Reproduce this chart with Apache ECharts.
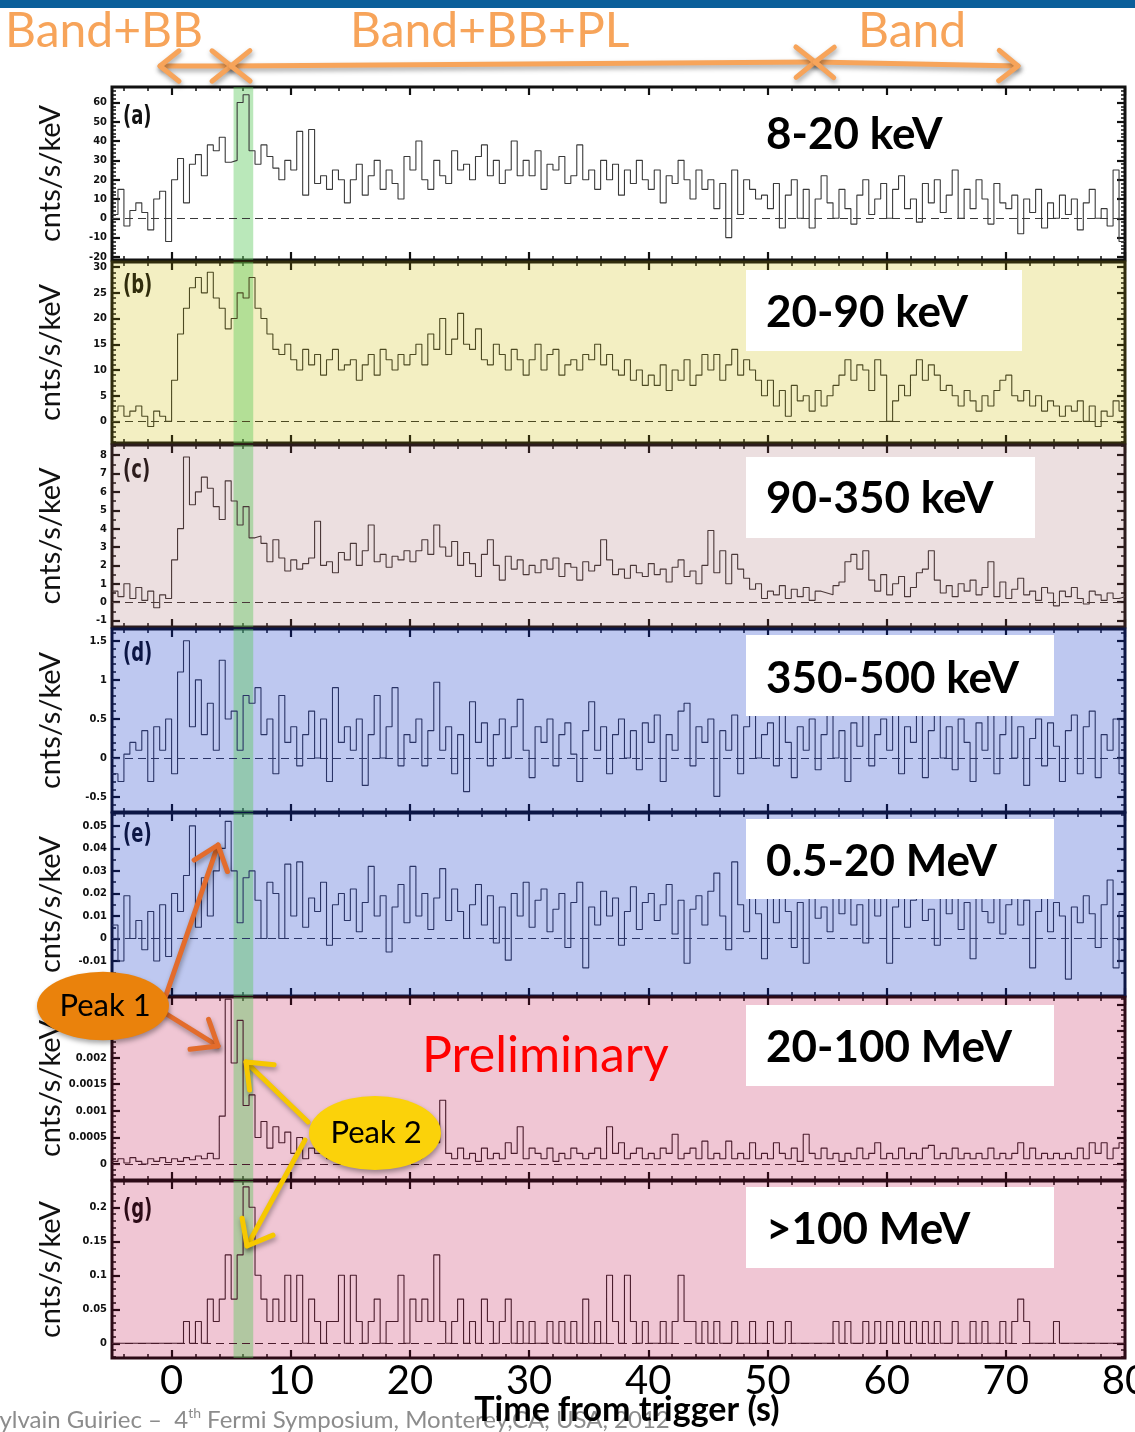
<!DOCTYPE html>
<html><head><meta charset="utf-8">
<script src="https://cdn.jsdelivr.net/npm/echarts@6/dist/echarts.min.js"></script>
<style>html,body{margin:0;padding:0;background:#fff}#c{width:1135px;height:1432px}</style>
</head><body><div id="c"></div>
<script>
// ---------------- DATA ----------------
const T_START = -5, BIN = 0.5, X_MIN = -5, X_MAX = 80;
const X_MAJOR = [0, 10, 20, 30, 40, 50, 60, 70, 80];
const PEAK_WINDOW = [5.2, 6.85];
const BAND_LABELS = ['8-20 keV', '20-90 keV', '90-350 keV', '350-500 keV', '0.5-20 MeV', '20-100 MeV', '>100 MeV'];
const PANEL_LETTERS = ['(a)', '(b)', '(c)', '(d)', '(e)', '', '(g)'];

const countsA = [
 2, 15, -4, 4, 8, 3, -6, 10, 14, -12,
 20, 31, 8, 28, 33, 22, 38, 35, 42, 29,
 30, 60, 64, 35, 28, 38, 32, 26, 20, 30,
 25, 45, 12, 46, 18, 22, 15, 25, 20, 8,
 20, 28, 12, 22, 30, 15, 25, 18, 10, 32,
 25, 40, 20, 15, 30, 22, 18, 35, 25, 28,
 20, 32, 38, 22, 30, 18, 25, 40, 22, 30,
 22, 35, 15, 28, 25, 32, 18, 22, 38, 20,
 25, 15, 30, 20, 28, 12, 25, 18, 30, 20,
 15, 25, 8, 22, 18, 30, 20, 10, 25, 15,
 20, 5, 18, -10, 25, 2, 20, 15, 10, 12,
 5, 18, -5, 12, 20, 0, 15, -5, 10, 22,
 8, 0, 15, 5, -3, 12, 20, 2, 10, 18,
 0, 15, 22, 5, 10, -2, 18, 8, 20, 3,
 12, 25, 0, 15, 5, 20, 10, -3, 18, 8,
 5, 12, -8, 10, 3, 15, -5, 8, 0, 12,
 2, 10, -6, 8, 15, 0, 5, -4, 25, -12
];
const countsB = [
 2, 3, 1, 2, 3, 1, -1, 2, 1, 0,
 8, 17, 22, 26, 28, 25, 29, 24, 22, 18,
 20, 25, 24, 28, 22, 20, 17, 14, 13, 15,
 12, 10, 14, 11, 13, 9, 12, 14, 10, 11,
 12, 8, 11, 13, 9, 14, 12, 10, 13, 11,
 13, 15, 11, 17, 14, 20, 13, 16, 21, 15,
 14, 18, 12, 11, 15, 13, 10, 14, 12, 9,
 12, 15, 10, 13, 14, 9, 11, 12, 10, 13,
 12, 15, 11, 13, 10, 9, 12, 8, 10, 7,
 9, 7, 11, 6, 10, 8, 12, 7, 9, 13,
 10, 13, 8, 11, 14, 9, 12, 10, 8, 5,
 8, 3, 6, 1, 7, 4, 5, 2, 6, 3,
 5, 7, 9, 12, 8, 11, 10, 6, 12, 9,
 0, 4, 7, 5, 9, 12, 8, 11, 9, 6,
 7, 5, 3, 6, 4, 2, 5, 3, 6, 8,
 9, 5, 4, 6, 3, 5, 2, 4, 3, 1,
 3, 2, 4, 0, 3, -1, 2, 1, 4, 2
];
const countsC = [
 0.6, 0.3, 1.0, 0.2, 0.8, 0.1, 0.6, -0.3, 0.4, 0.2,
 2.3, 4.0, 7.9, 5.3, 6.0, 6.8, 6.2, 5.2, 4.5, 6.6,
 5.5, 4.2, 5.2, 3.5, 3.6, 3.2, 2.2, 3.4, 2.4, 1.7,
 2.3, 1.8, 2.1, 2.4, 4.4, 2.0, 2.2, 1.6, 2.7, 2.3,
 3.2, 2.0, 2.8, 4.2, 2.2, 2.6, 1.9, 2.5, 2.3, 2.8,
 2.2, 2.8, 3.4, 2.6, 4.2, 3.0, 2.5, 3.3, 2.0, 2.7,
 2.1, 1.4, 2.6, 3.4, 2.0, 1.2, 2.5, 1.8, 2.3, 1.5,
 2.0, 1.6, 2.3, 1.8, 2.4, 1.4, 2.1, 1.9, 1.2, 2.2,
 1.7, 2.0, 3.4, 2.3, 1.5, 1.8, 1.3, 2.0, 1.6, 1.4,
 2.1, 1.5, 1.8, 1.1, 1.9, 2.3, 1.4, 1.7, 1.0, 2.0,
 3.9, 1.6, 2.8, 1.0, 2.6, 1.8, 1.3, 0.7, 1.0, 0.2,
 0.6, 0.4, 0.9, 0.2, 0.7, 0.3, 0.8, 0.1, 0.6, 0.5,
 0.4, 0.9, 1.1, 2.2, 2.6, 1.8, 2.8, 1.2, 0.6, 1.5,
 0.4, 1.0, 1.4, 0.3, 0.8, 1.6, 1.8, 2.8, 1.2, 0.5,
 0.9, 0.3, 1.0, 0.6, 1.2, 0.4, 0.8, 2.2, 0.3, 1.1,
 0.2, 0.7, 1.3, 0.4, 0.6, 0.1, 0.8, 0.5, -0.2, 0.6,
 0.3, 0.8, 0.2, -0.1, 0.6, 0.4, 0.1, 0.5, 0.2, 0.3
];
const countsD = [
 -0.2, -0.3, 0.05, 0.2, 0.1, 0.35, -0.3, 0.4, 0.1, 0.5,
 -0.2, 1.1, 1.5, 0.4, 1.0, 0.3, 0.7, 0.1, 1.25, 0.5,
 0.6, 0.1, 0.8, 0.7, 0.9, 0.3, 0.5, -0.2, 0.8, 0.2,
 0.4, -0.1, 0.3, 0.6, 0.0, 0.5, -0.3, 0.9, 0.2, 0.4,
 0.1, 0.5, -0.35, 0.3, 0.8, 0.0, 0.4, 0.9, -0.1, 0.3,
 0.2, 0.5, -0.1, 0.35, 0.97, 0.1, 0.4, -0.2, 0.3, -0.43,
 0.72, 0.2, 0.45, -0.1, 0.3, 0.5, 0.0, 0.4, 0.75, 0.1,
 -0.25, 0.4, 0.2, 0.5, -0.1, 0.3, 0.45, 0.05, -0.3, 0.35,
 0.72, 0.1, 0.4, -0.2, 0.3, 0.5, 0.0, 0.35, -0.15, 0.45,
 0.2, 0.55, -0.3, 0.3, 0.1, 0.6, 0.7, -0.1, 0.4, 0.2,
 0.5, -0.49, 0.35, 0.1, 0.55, -0.2, 0.4, 0.6, 0.0, 0.3,
 0.45, -0.1, 0.6, 0.2, -0.25, 0.4, 0.1, 0.5, -0.15, 0.3,
 0.55, 0.0, 0.35, -0.3, 0.45, 0.15, 0.6, -0.1, 0.3, 0.5,
 0.1, 0.65, -0.2, 0.4, 0.2, 0.55, -0.25, 0.35, 0.6, 0.0,
 0.4, -0.15, 0.5, 0.2, -0.3, 0.45, 0.1, 0.55, -0.2, 0.3,
 0.6, 0.0, 0.4, -0.35, 0.25, 0.5, -0.1, 0.45, 0.15, -0.3,
 0.35, 0.55, -0.2, 0.4, 0.6, -0.25, 0.3, 0.1, 0.5, -0.2
];
const countsE = [
 0.006, -0.01, 0.019, 0.0, 0.008, -0.005, 0.012, -0.01, 0.015, -0.008,
 0.02, 0.012, 0.028, 0.05, 0.005, 0.027, 0.01, 0.03, 0.04, 0.052,
 0.03, 0.007, 0.027, 0.03, 0.017, 0.0, 0.025, 0.02, 0.0, 0.033,
 0.01, 0.034, 0.005, 0.018, 0.012, 0.025, -0.003, 0.015, 0.02, 0.008,
 0.022, 0.003, 0.016, 0.032, 0.01, 0.019, -0.006, 0.014, 0.024, 0.007,
 0.032, 0.01, 0.02, 0.004, 0.018, 0.031, 0.008, 0.022, 0.012, 0.0,
 0.015, 0.024, 0.006, 0.019, -0.002, 0.014, -0.0096, 0.02, 0.01, 0.025,
 0.005, 0.017, 0.022, 0.003, 0.013, 0.02, -0.004, 0.016, 0.025, -0.013,
 0.014, 0.006, 0.021, 0.01, 0.018, -0.003, 0.012, 0.023, 0.004, 0.016,
 0.02, 0.008, 0.015, 0.024, 0.002, 0.017, -0.011, 0.013, 0.019, 0.006,
 0.021, 0.029, 0.01, -0.005, 0.034, 0.015, 0.003, 0.02, 0.011, -0.009,
 0.018, 0.007, 0.022, 0.012, -0.004, 0.016, -0.011, 0.02, 0.009, 0.014,
 0.003, 0.019, 0.011, 0.023, 0.006, 0.015, -0.002, 0.018, 0.01, 0.021,
 -0.011, 0.014, 0.02, 0.005, 0.017, 0.024, 0.008, 0.013, -0.003, 0.019,
 0.011, 0.022, 0.004, 0.016, -0.009, 0.02, 0.012, 0.007, 0.018, 0.002,
 0.015, 0.021, 0.006, 0.017, -0.013, 0.012, 0.02, 0.003, 0.016, 0.01,
 -0.018, 0.014, 0.007, 0.019, 0.011, -0.004, 0.015, 0.026, -0.013, 0.012
];
const countsF = [
 0.00005, 0.0001, 0.00002, 0.00012, 0.00005, 0.0, 0.0001, 0.00005, 0.00012, 0.00003,
 0.0001, 0.00005, 0.00012, 0.00008, 0.00015, 0.0001, 0.0002, 0.0001, 0.0009, 0.0031,
 0.0019, 0.0027, 0.0011, 0.0013, 0.0005, 0.0008, 0.0003, 0.0007, 0.0004, 0.0006,
 0.0002, 0.0005, 0.0001, 0.0003, 0.0002, 0.0004, 0.0001, 0.0003, 0.00005, 0.0002,
 0.0001, 0.0003, 0.0001, 0.0002, 0.0004, 0.0001, 0.0002, 0.00005, 0.0003, 0.0001,
 0.0002, 0.0001, 0.0003, 0.0008, 0.0004, 0.0012, 0.0002, 0.0001, 0.0003, 0.0001,
 0.0002, 0.00005, 0.0003, 0.0001, 0.0002, 0.0001, 0.0004, 0.0002, 0.0007, 0.0001,
 0.0003, 0.0002, 0.0001, 0.0003, 0.00005, 0.0002, 0.0001, 0.0003, 0.0002, 0.0001,
 0.0002, 0.0003, 0.0001, 0.0007, 0.0002, 0.0004, 0.0001, 0.0002, 0.0003, 0.0001,
 0.0002, 0.0001, 0.0003, 0.0002, 0.00056, 0.0001, 0.0002, 0.0003, 0.0001, 0.00043,
 0.0001, 0.0002, 0.0001, 0.00043, 0.0001, 0.0002, 0.0001, 0.0004, 0.0001, 0.0002,
 0.0001, 0.0004, 0.0002, 0.0001, 0.0003, 0.00005, 0.00056, 0.0002, 0.0001, 0.0003,
 0.0001, 0.0002, 0.00005, 0.0002, 0.0001, 0.0003, 0.0001, 0.0002, 0.0004, 0.0001,
 0.0002, 0.0001, 0.0003, 0.0001, 0.0002, 0.0001, 0.0003, 0.00035, 0.0001, 0.0002,
 0.0001, 0.0003, 0.0001, 0.0002, 0.0001, 0.0002, 0.0001, 0.0003, 0.0001, 0.0002,
 0.0001, 0.0002, 0.0004, 0.0001, 0.0003, 0.0001, 0.0002, 0.0001, 0.0002, 0.0001,
 0.0002, 0.0001, 0.0003, 0.0001, 0.0004, 0.0002, 0.0004, 0.0001, 0.0003, 0.0004
];
const countsG = [
 0, 0, 0, 0, 0, 0, 0, 0, 0, 0,
 0, 0, 0.032, 0, 0.032, 0, 0.065, 0.032, 0.065, 0.13,
 0.065, 0.13, 0.23, 0.2, 0.1, 0.065, 0.032, 0.065, 0.032, 0.1,
 0.032, 0.1, 0, 0.065, 0.032, 0, 0.032, 0.032, 0.1, 0,
 0.1, 0.032, 0, 0.032, 0.065, 0, 0.032, 0.032, 0.1, 0,
 0.065, 0.032, 0.065, 0.032, 0.13, 0.032, 0, 0.032, 0.065, 0,
 0.032, 0, 0.065, 0.032, 0, 0.032, 0.065, 0, 0.032, 0,
 0.032, 0, 0, 0.032, 0, 0.032, 0, 0.032, 0, 0.065,
 0, 0.032, 0, 0.1, 0.032, 0, 0.1, 0.032, 0, 0.032,
 0, 0, 0.032, 0, 0.032, 0.1, 0.032, 0.032, 0, 0.032,
 0, 0.032, 0, 0, 0.032, 0, 0, 0.032, 0, 0,
 0.032, 0, 0, 0.032, 0, 0, 0, 0, 0, 0,
 0, 0.032, 0, 0.032, 0, 0, 0.032, 0, 0.032, 0,
 0.032, 0, 0.032, 0, 0.032, 0, 0.032, 0, 0.032, 0,
 0, 0.032, 0, 0, 0.032, 0, 0.032, 0, 0, 0.032,
 0, 0.032, 0.065, 0.032, 0, 0, 0, 0, 0.032, 0,
 0, 0, 0, 0, 0, 0, 0, 0, 0, 0
];

const ticksA = [-20, -10, 0, 10, 20, 30, 40, 50, 60];
const ticksB = [0, 5, 10, 15, 20, 25, 30];
const ticksC = [-1, 0, 1, 2, 3, 4, 5, 6, 7, 8];
const ticksD = [-0.5, 0, 0.5, 1, 1.5];
const ticksE = [-0.01, 0, 0.01, 0.02, 0.03, 0.04, 0.05];
const ticksF = [0, 0.0005, 0.001, 0.0015, 0.002, 0.0025, 0.003];
const ticksG = [0, 0.05, 0.1, 0.15, 0.2];

// ---------------- LAYOUT / STYLE ----------------
const panels = [
 {vals: countsA, ticks: ticksA, sub: 5, yMin: -21.6, yMax: 68,      top: 87,   height: 173, bg: '#ffffff', line: '#3a3a3a', frame: '#111111'},
 {vals: countsB, ticks: ticksB, sub: 5, yMin: -4.2,  yMax: 31,      top: 262,  height: 181, bg: '#f3efc2', line: '#4d4a22', frame: '#302c0c'},
 {vals: countsC, ticks: ticksC, sub: 2, yMin: -1.35, yMax: 8.55,    top: 445,  height: 182, bg: '#ecdfe0', line: '#4a3838', frame: '#2c1c1c'},
 {vals: countsD, ticks: ticksD, sub: 5, yMin: -0.69, yMax: 1.65,    top: 629,  height: 183, bg: '#bec8f0', line: '#2a3466', frame: '#0c1645'},
 {vals: countsE, ticks: ticksE, sub: 2, yMin: -0.0255, yMax: 0.0557, top: 813, height: 183, bg: '#bec8f0', line: '#2a3466', frame: '#0c1645'},
 {vals: countsF, ticks: ticksF, sub: 5, yMin: -0.0003, yMax: 0.00314, top: 997, height: 183, bg: '#f0c6d4', line: '#4a1c2c', frame: '#2c0a16'},
 {vals: countsG, ticks: ticksG, sub: 5, yMin: -0.0216, yMax: 0.2387, top: 1181, height: 177, bg: '#f0c6d4', line: '#4a1c2c', frame: '#2c0a16'}
];
const letterPos = [117, 286, 471, 654, 835, 1020, 1210];
const boxes = [null, [746, 270, 276, 81], [746, 457, 289, 81], [746, 635, 308, 81], [746, 819, 308, 80], [746, 1005, 308, 81], [746, 1187, 308, 81]];
const labelY = [135, 313, 499, 679, 862, 1048, 1230];

function minorOf(major, sub, lo, hi) {
  const step = (major[1] - major[0]) / sub, out = [];
  for (let k = -sub; k <= (major.length - 1) * sub + sub; k++) {
    if (k % sub === 0) continue;
    const v = +(major[0] + k * step).toFixed(8);
    if (v > lo && v < hi) out.push(v);
  }
  return out;
}
const X_MINOR = minorOf(X_MAJOR, 5, X_MIN, X_MAX);

const grids = [], xAxes = [], yAxes = [], series = [];
panels.forEach((p, i) => {
  grids.push({left: 112, right: 10, top: p.top, height: p.height, show: true, outerBoundsMode: 'none', containLabel: false,
    backgroundColor: p.bg, borderColor: p.frame, borderWidth: 3});
  const xb = xAxes.length, yb = yAxes.length;
  const mkX = (pos, vals, len, lab) => ({type: 'value', gridIndex: i, min: X_MIN, max: X_MAX, position: pos,
    axisLine: {show: false, onZero: false}, splitLine: {show: false},
    axisTick: {show: true, inside: true, customValues: vals, length: len, lineStyle: {color: p.frame, width: len > 5 ? 2.2 : 1.5}},
    axisLabel: lab ? {show: true, customValues: X_MAJOR, fontSize: 40, fontFamily: 'Lato', color: '#000', margin: 3, formatter: v => String(v)} : {show: false}});
  xAxes.push(mkX('bottom', X_MAJOR, 8, i === panels.length - 1), mkX('bottom', X_MINOR, 4, false),
             mkX('top', X_MAJOR, 8, false), mkX('top', X_MINOR, 4, false));
  const yMinor = minorOf(p.ticks, p.sub, p.yMin, p.yMax);
  const mkY = (pos, vals, len, lab) => ({type: 'value', gridIndex: i, min: p.yMin, max: p.yMax, position: pos,
    axisLine: {show: false, onZero: false}, splitLine: {show: false},
    axisTick: {show: true, inside: true, customValues: vals, length: len, lineStyle: {color: p.frame, width: len > 5 ? 2.2 : 1.5}},
    axisLabel: lab ? {show: true, customValues: p.ticks, fontSize: 11, fontWeight: 'bold', fontFamily: 'DejaVu Sans Condensed', color: '#111', margin: 5, formatter: v => String(v)} : {show: false},
    name: lab ? 'cnts/s/keV' : '', nameLocation: 'middle', nameGap: 47, nameRotate: 90, nameMoveOverlap: false,
    nameTextStyle: {fontSize: 29, fontFamily: 'Lato', color: '#111'}});
  yAxes.push(mkY('left', p.ticks, 8, true), mkY('left', yMinor, 4, false),
             mkY('right', p.ticks, 8, false), mkY('right', yMinor, 4, false));
  const pts = p.vals.map((v, k) => [T_START + k * BIN, v]);
  pts.push([T_START + p.vals.length * BIN, p.vals[p.vals.length - 1]]);
  series.push({type: 'line', xAxisIndex: xb, yAxisIndex: yb, step: 'end', symbol: 'none', data: pts,
    lineStyle: {color: p.line, width: 1.1}, z: 3,
    markLine: {silent: true, symbol: ['none', 'none'], label: {show: false}, animation: false,
      lineStyle: {type: [8, 5], color: p.line, width: 1.2}, data: [{yAxis: 0}]},
    markArea: {silent: true, itemStyle: {color: 'rgba(90,200,90,0.42)'},
      data: [[{xAxis: PEAK_WINDOW[0]}, {xAxis: PEAK_WINDOW[1]}]]}});
});

// ---------------- DECORATIONS ----------------
const ORANGE = '#f7a45a';
const shadow = {shadowBlur: 5, shadowColor: 'rgba(0,0,0,0.35)', shadowOffsetX: 1, shadowOffsetY: 3};
function headAt(tx, ty, ux, uy, color, w, head) {
  // ux,uy: direction pointing from tip back along the shaft
  return {type: 'polyline', z: 61,
    shape: {points: [[tx + ux * head - uy * head * 0.8, ty + uy * head + ux * head * 0.8], [tx, ty], [tx + ux * head + uy * head * 0.8, ty + uy * head - ux * head * 0.8]]},
    style: Object.assign({stroke: color, lineWidth: w, fill: null, lineJoin: 'round', lineCap: 'round'}, shadow)};
}
function dblArrow(x1, y1, x2, y2, color, w, head) {
  const dx = x2 - x1, dy = y2 - y1, L = Math.hypot(dx, dy), ux = dx / L, uy = dy / L;
  return [{type: 'line', shape: {x1, y1, x2, y2}, style: Object.assign({stroke: color, lineWidth: w, lineCap: 'round'}, shadow), z: 60},
    headAt(x1, y1, ux, uy, color, w, head), headAt(x2, y2, -ux, -uy, color, w, head)];
}
function arrow(x1, y1, x2, y2, color, w, head) {
  const dx = x2 - x1, dy = y2 - y1, L = Math.hypot(dx, dy), ux = dx / L, uy = dy / L;
  const h = headAt(x2, y2, -ux, -uy, color, w, head); h.z = 71;
  return [{type: 'line', z: 70, shape: {x1, y1, x2, y2}, style: Object.assign({stroke: color, lineWidth: w, lineCap: 'round'}, shadow)}, h];
}
const txt = (x, y, text, font, fill, align, extra) => Object.assign({type: 'text', x, y, z: 80,
  style: {text, font, fill, textAlign: align || 'left', textVerticalAlign: 'middle', verticalAlign: 'middle'}}, extra || {});

let graphic = [
  {type: 'rect', z: 90, shape: {x: 0, y: 0, width: 1135, height: 8}, style: {fill: '#0a5f9a'}},
  txt(5, 32, 'Band+BB', '48px Lato', ORANGE),
  txt(350, 32, 'Band+BB+PL', '48px Lato', ORANGE),
  txt(858, 32, 'Band', '48px Lato', ORANGE)
];
graphic = graphic.concat(dblArrow(160, 66, 231, 66, ORANGE, 5, 19));
graphic = graphic.concat(dblArrow(231, 66, 815, 62, ORANGE, 5, 19));
graphic = graphic.concat(dblArrow(815, 62, 1018, 66, ORANGE, 5, 19));

panels.forEach((p, i) => {
  if (boxes[i]) graphic.push({type: 'rect', z: 50, shape: {x: boxes[i][0], y: boxes[i][1], width: boxes[i][2], height: boxes[i][3]}, style: {fill: '#ffffff'}});
  graphic.push(txt(766, labelY[i], BAND_LABELS[i], 'bold 44px Lato', '#000'));
  if (PANEL_LETTERS[i]) graphic.push(txt(123, letterPos[i], PANEL_LETTERS[i], 'bold 25px "DejaVu Sans Condensed"', p.frame, 'left', {scaleX: 0.8, scaleY: 1.05}));
});

graphic.push(txt(422, 1056, 'Preliminary', '50px Lato', '#ff0000'));

// Peak callouts
graphic = graphic.concat(arrow(165, 998, 218, 845, '#e36c2c', 5, 22));
graphic = graphic.concat(arrow(160, 1010, 218, 1046, '#e36c2c', 5, 22));
graphic.push({type: 'circle', z: 75, x: 103, y: 1006, scaleY: 0.52, shape: {cx: 0, cy: 0, r: 66},
  style: Object.assign({fill: '#ea820c'}, shadow)});
graphic.push(txt(105, 1006, 'Peak 1', '31px Lato', '#000', 'center', {z: 85}));
graphic = graphic.concat(arrow(308, 1122, 246, 1062, '#f6c800', 5, 22));
graphic = graphic.concat(arrow(305, 1140, 247, 1246, '#f6c800', 5, 22));
graphic.push({type: 'circle', z: 75, x: 375, y: 1133, scaleY: 0.56, shape: {cx: 0, cy: 0, r: 66},
  style: Object.assign({fill: '#fbd20a'}, shadow)});
graphic.push(txt(376, 1133, 'Peak 2', '31px Lato', '#000', 'center', {z: 85}));

// footer + axis title
graphic.push({type: 'text', x: -13, y: 1420, z: 78, style: {
  text: '{n|Sylvain Guiriec –  4}{s|th}{n| Fermi Symposium, Monterey,CA, USA, 2012}',
  textVerticalAlign: 'middle', verticalAlign: 'middle',
  rich: {n: {fontSize: 24, fontFamily: 'Lato', fill: '#8c8c8c', lineHeight: 28},
         s: {fontSize: 14, fontFamily: 'Lato', fill: '#8c8c8c', verticalAlign: 'top', lineHeight: 14}}}});
graphic.push(txt(627, 1410, 'Time from trigger (s)', 'bold 34px Lato', '#000', 'center', {z: 86}));

const chart = echarts.init(document.getElementById('c'), null, {renderer: 'canvas'});
chart.setOption({animation: false, backgroundColor: '#ffffff', grid: grids, xAxis: xAxes, yAxis: yAxes, series, graphic});
</script></body></html>
